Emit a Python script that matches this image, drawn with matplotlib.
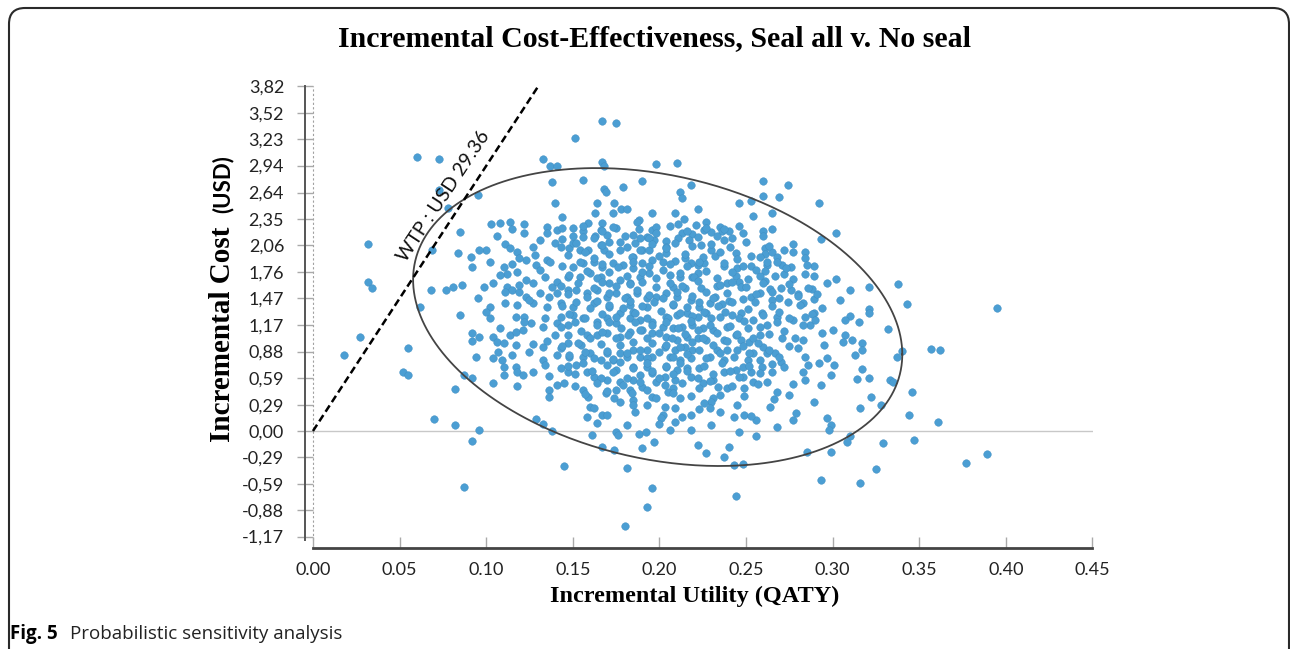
import numpy as np
import matplotlib.pyplot as plt
from matplotlib.patches import FancyBboxPatch
from matplotlib.transforms import IdentityTransform

# (incremental utility [QATY], incremental cost [USD]) simulations
left_pts = [(0.060, 3.04), (0.073, 3.01), (0.032, 2.07), (0.032, 1.65), (0.034, 1.58), (0.027, 1.04),
            (0.018, 0.84), (0.055, 0.92), (0.052, 0.65), (0.055, 0.62), (0.073, 2.67), (0.078, 2.47),
            (0.069, 2.00), (0.068, 1.56), (0.062, 1.37), (0.070, 0.13), (0.082, 0.07), (0.096, 0.01),
            (0.092, -0.11), (0.087, -0.62), (0.082, 0.46), (0.087, 0.62), (0.092, 0.59), (0.085, 2.20),
            (0.095, 2.61), (0.084, 1.97), (0.091, 1.93), (0.092, 1.82), (0.077, 1.56), (0.081, 1.59),
            (0.086, 1.62), (0.085, 1.28), (0.095, 1.47)]

top_pts = [(0.167, 3.43), (0.175, 3.41), (0.151, 3.24), (0.133, 3.01), (0.137, 2.93), (0.141, 2.94),
           (0.167, 2.98), (0.168, 2.93), (0.198, 2.96), (0.210, 2.97), (0.138, 2.76), (0.156, 2.78),
           (0.190, 2.77), (0.168, 2.68), (0.169, 2.65), (0.179, 2.70), (0.260, 2.77), (0.274, 2.72),
           (0.218, 2.72), (0.212, 2.65), (0.213, 2.58), (0.260, 2.60), (0.269, 2.59), (0.246, 2.52),
           (0.253, 2.55), (0.292, 2.52), (0.265, 2.41), (0.254, 2.38), (0.302, 2.19), (0.293, 2.13),
           (0.260, 2.21), (0.140, 2.52), (0.164, 2.52), (0.174, 2.52), (0.178, 2.46), (0.181, 2.46),
           (0.144, 2.37), (0.163, 2.41), (0.173, 2.41), (0.188, 2.34), (0.187, 2.31), (0.196, 2.41)]

upper_left_pts = [(0.103, 2.29), (0.108, 2.30), (0.114, 2.31), (0.122, 2.29), (0.115, 2.24), (0.122, 2.19),
                  (0.135, 2.26), (0.141, 2.23), (0.135, 2.19), (0.150, 2.25), (0.156, 2.21), (0.159, 2.30),
                  (0.167, 2.30), (0.156, 2.15), (0.163, 2.16), (0.170, 2.17), (0.175, 2.25), (0.185, 2.17),
                  (0.193, 2.15), (0.196, 2.23), (0.198, 2.26), (0.166, 2.23), (0.100, 2.01), (0.111, 2.07),
                  (0.106, 2.16), (0.127, 2.04), (0.118, 1.98), (0.123, 1.89), (0.119, 1.92), (0.115, 1.85),
                  (0.129, 1.84), (0.131, 1.78), (0.135, 1.89), (0.140, 2.08), (0.144, 2.13), (0.148, 2.03),
                  (0.150, 2.08), (0.154, 2.00), (0.159, 2.00), (0.166, 2.06), (0.168, 2.00), (0.171, 2.09),
                  (0.177, 2.00), (0.181, 2.04), (0.186, 2.08), (0.189, 2.14), (0.190, 2.00), (0.185, 1.93),
                  (0.194, 2.00), (0.197, 2.11), (0.110, 1.82), (0.112, 1.74), (0.118, 1.76), (0.123, 1.67),
                  (0.127, 1.64), (0.134, 1.70), (0.138, 1.59), (0.141, 1.65), (0.147, 1.70), (0.150, 1.82),
                  (0.156, 1.86), (0.162, 1.87), (0.167, 1.82), (0.173, 1.86), (0.179, 1.84), (0.185, 1.80),
                  (0.190, 1.86), (0.196, 1.89), (0.154, 1.70), (0.160, 1.75), (0.166, 1.70), (0.171, 1.64),
                  (0.177, 1.67), (0.183, 1.64), (0.189, 1.70), (0.194, 1.75), (0.099, 1.59), (0.104, 1.64),
                  (0.112, 1.59), (0.115, 1.56), (0.119, 1.54), (0.123, 1.48), (0.131, 1.53), (0.136, 1.48),
                  (0.141, 1.53), (0.147, 1.56), (0.152, 1.56), (0.158, 1.53), (0.164, 1.56), (0.170, 1.48),
                  (0.175, 1.53), (0.181, 1.48), (0.187, 1.53), (0.193, 1.47), (0.198, 1.48), (0.102, 1.37),
                  (0.111, 1.42), (0.118, 1.39), (0.127, 1.42), (0.135, 1.37), (0.143, 1.42), (0.150, 1.37),
                  (0.162, 1.42), (0.171, 1.37), (0.183, 1.39), (0.193, 1.37)]

upper_right_pts = [(0.222, 2.46), (0.209, 2.41), (0.214, 2.35), (0.211, 2.29), (0.221, 2.28), (0.227, 2.31),
                   (0.226, 2.23), (0.230, 2.20), (0.235, 2.26), (0.236, 2.21), (0.240, 2.21), (0.248, 2.19),
                   (0.213, 2.19), (0.219, 2.18), (0.237, 2.11), (0.217, 2.11), (0.204, 2.10), (0.204, 2.04),
                   (0.224, 2.06), (0.230, 2.00), (0.232, 1.94), (0.244, 1.97), (0.253, 1.94), (0.261, 2.03),
                   (0.261, 1.96), (0.265, 1.98), (0.268, 1.93), (0.272, 2.01), (0.277, 1.98), (0.284, 1.98),
                   (0.289, 1.83), (0.302, 1.68), (0.321, 1.59), (0.338, 1.63), (0.343, 1.41), (0.321, 1.35),
                   (0.271, 1.84), (0.276, 1.82), (0.272, 1.74), (0.262, 1.84), (0.261, 1.77), (0.258, 1.72),
                   (0.253, 1.83), (0.245, 1.80), (0.244, 1.72), (0.246, 1.65), (0.247, 1.59), (0.239, 1.64),
                   (0.237, 1.83), (0.226, 1.86), (0.284, 1.74), (0.288, 1.57), (0.276, 1.56), (0.270, 1.58),
                   (0.264, 1.57), (0.258, 1.53), (0.261, 1.66), (0.280, 1.52), (0.289, 1.46), (0.294, 1.36),
                   (0.283, 1.42), (0.274, 1.43), (0.265, 1.45), (0.253, 1.48), (0.240, 1.44), (0.236, 1.41),
                   (0.229, 1.42), (0.224, 1.58), (0.215, 1.58), (0.208, 1.59), (0.204, 1.97), (0.209, 1.88),
                   (0.202, 1.87), (0.215, 1.92), (0.218, 1.86), (0.222, 1.84), (0.222, 1.75), (0.219, 1.70),
                   (0.212, 1.70), (0.206, 1.73), (0.204, 1.53), (0.210, 1.48), (0.218, 1.45), (0.223, 1.37),
                   (0.208, 1.39), (0.233, 1.61), (0.232, 1.48)]

lower_left_pts = [(0.100, 1.32), (0.092, 1.08), (0.092, 1.00), (0.096, 1.04), (0.104, 1.04), (0.106, 0.99),
                  (0.110, 0.97), (0.114, 1.06), (0.117, 1.10), (0.121, 1.12), (0.117, 1.26), (0.122, 1.26),
                  (0.126, 1.20), (0.133, 1.15), (0.094, 0.82), (0.104, 0.81), (0.107, 0.87), (0.109, 0.79),
                  (0.110, 0.71), (0.115, 0.84), (0.117, 0.71), (0.118, 0.65), (0.121, 0.62), (0.110, 0.62),
                  (0.104, 0.53), (0.118, 0.50), (0.127, 0.65), (0.127, 0.96), (0.133, 0.93), (0.135, 1.00),
                  (0.133, 0.79), (0.136, 0.61), (0.141, 0.51), (0.136, 0.45), (0.136, 0.38), (0.145, 0.53),
                  (0.143, 0.92), (0.147, 0.97), (0.155, 0.95), (0.158, 1.06), (0.164, 1.06), (0.170, 1.08),
                  (0.177, 1.04), (0.183, 1.10), (0.190, 1.12), (0.196, 1.08), (0.141, 1.20), (0.147, 1.17),
                  (0.143, 1.26), (0.150, 1.28), (0.156, 1.25), (0.164, 1.21), (0.170, 1.25), (0.175, 1.20),
                  (0.183, 1.25), (0.189, 1.23), (0.196, 1.21), (0.177, 1.31), (0.185, 1.32), (0.141, 0.84),
                  (0.148, 0.82), (0.143, 0.70), (0.147, 0.65), (0.152, 0.73), (0.156, 0.82), (0.160, 0.86),
                  (0.158, 0.65), (0.162, 0.60), (0.166, 0.79), (0.170, 0.86), (0.173, 0.79), (0.177, 0.86),
                  (0.181, 0.82), (0.185, 0.90), (0.189, 0.82), (0.193, 0.90), (0.196, 0.82), (0.185, 0.71),
                  (0.193, 0.71), (0.196, 0.64), (0.175, 0.68), (0.170, 0.56), (0.177, 0.54), (0.185, 0.56),
                  (0.190, 0.49), (0.198, 0.54), (0.156, 0.45), (0.159, 0.38), (0.160, 0.27), (0.158, 0.15),
                  (0.167, 0.18), (0.164, 0.09), (0.169, 0.42), (0.175, 0.45), (0.183, 0.45), (0.185, 0.34),
                  (0.185, 0.29), (0.196, 0.38), (0.175, -0.01), (0.176, -0.04), (0.188, -0.03), (0.161, -0.04),
                  (0.167, -0.18), (0.174, -0.21), (0.181, -0.41), (0.190, -0.19), (0.197, -0.12), (0.129, 0.13),
                  (0.133, 0.08), (0.138, 0.00), (0.145, -0.39)]

lower_right_pts = [(0.310, 1.27), (0.315, 1.21), (0.321, 1.31), (0.332, 1.13), (0.300, 1.12), (0.307, 1.06),
                   (0.306, 0.99), (0.311, 1.01), (0.317, 0.97), (0.317, 0.90), (0.340, 0.89), (0.337, 0.82),
                   (0.317, 0.69), (0.321, 0.59), (0.314, 0.58), (0.333, 0.56), (0.335, 0.54), (0.346, 0.43),
                   (0.322, 0.38), (0.328, 0.29), (0.316, 0.25), (0.344, 0.18), (0.347, -0.10), (0.329, -0.13),
                   (0.299, -0.23), (0.299, 0.07), (0.298, 0.01), (0.297, 0.14), (0.310, -0.06), (0.308, -0.12),
                   (0.285, -0.23), (0.289, 0.32), (0.279, 0.20), (0.277, 0.12), (0.268, 0.04), (0.256, 0.12),
                   (0.256, -0.06), (0.249, 0.18), (0.243, 0.15), (0.240, -0.18), (0.237, -0.29), (0.227, -0.24),
                   (0.222, -0.15), (0.243, -0.38), (0.248, -0.37), (0.325, -0.42), (0.264, 0.27), (0.266, 0.35),
                   (0.268, 0.43), (0.275, 0.40), (0.277, 0.52), (0.284, 0.56), (0.283, 0.65), (0.286, 0.73),
                   (0.292, 0.75), (0.297, 0.81), (0.299, 0.62), (0.284, 0.82), (0.280, 0.92), (0.283, 1.01),
                   (0.287, 1.17), (0.284, 1.26), (0.289, 1.31), (0.294, 1.08), (0.271, 1.03), (0.277, 1.23),
                   (0.268, 1.26), (0.262, 1.17), (0.259, 1.31), (0.254, 1.23), (0.247, 1.31), (0.242, 1.28),
                   (0.235, 1.26), (0.239, 1.15), (0.244, 1.06), (0.247, 1.01), (0.252, 0.99), (0.258, 1.06),
                   (0.260, 0.93), (0.262, 0.86), (0.267, 0.86), (0.270, 0.76), (0.272, 0.71), (0.258, 0.79),
                   (0.259, 0.71), (0.251, 0.79), (0.248, 0.71), (0.244, 0.68), (0.237, 0.79), (0.233, 0.90),
                   (0.239, 0.90), (0.229, 0.82), (0.223, 0.70), (0.218, 0.60), (0.225, 0.53), (0.231, 0.56),
                   (0.234, 0.49), (0.231, 0.37), (0.230, 0.32), (0.239, 0.48), (0.249, 0.48), (0.254, 0.54),
                   (0.262, 0.54), (0.265, 0.65), (0.208, 0.48), (0.205, 0.43), (0.212, 0.37), (0.203, 0.27),
                   (0.213, 0.15), (0.209, 0.10), (0.206, 0.01), (0.223, 0.24), (0.229, 0.25), (0.202, 0.18),
                   (0.204, 1.26), (0.210, 1.28), (0.216, 1.31), (0.222, 1.26), (0.227, 1.31), (0.202, 1.15),
                   (0.208, 1.14), (0.213, 1.15), (0.219, 1.17), (0.225, 1.14), (0.231, 1.12), (0.204, 1.04),
                   (0.210, 1.01), (0.216, 1.04), (0.222, 1.03), (0.227, 1.01), (0.203, 0.93), (0.209, 0.90),
                   (0.215, 0.93), (0.219, 0.90), (0.206, 0.82), (0.212, 0.79), (0.218, 0.81), (0.204, 0.71),
                   (0.210, 0.68), (0.216, 0.70), (0.203, 0.60), (0.209, 0.56), (0.251, 1.14), (0.245, 0.90),
                   (0.254, 0.86), (0.253, 0.65), (0.248, 0.60), (0.237, 0.65)]

core_top_pts = [(0.144, 2.25), (0.150, 2.16), (0.156, 2.27), (0.162, 2.14), (0.167, 2.21), (0.173, 2.26),
                (0.180, 2.16), (0.188, 2.24), (0.194, 2.14), (0.198, 2.19), (0.206, 2.27), (0.211, 2.14),
                (0.216, 2.21), (0.222, 2.15), (0.227, 2.25), (0.233, 2.16), (0.237, 2.24), (0.242, 2.14),
                (0.246, 2.27), (0.260, 2.16), (0.265, 2.24), (0.143, 2.04), (0.147, 1.95), (0.152, 2.08),
                (0.157, 1.98), (0.162, 1.92), (0.167, 2.06), (0.171, 1.96), (0.177, 2.09), (0.184, 1.93),
                (0.189, 2.01), (0.196, 2.07), (0.200, 1.94), (0.204, 2.03), (0.209, 2.08), (0.215, 1.96),
                (0.219, 2.05), (0.225, 1.93), (0.230, 2.07), (0.235, 1.98), (0.241, 2.04), (0.245, 1.90),
                (0.250, 2.09), (0.258, 1.93), (0.263, 2.05), (0.268, 1.87), (0.277, 2.07), (0.284, 1.92)]

core_upper_pts = [(0.144, 1.83), (0.148, 1.73), (0.154, 1.87), (0.158, 1.77), (0.164, 1.69), (0.167, 1.85),
                  (0.171, 1.76), (0.176, 1.82), (0.181, 1.72), (0.185, 1.87), (0.190, 1.76), (0.194, 1.83),
                  (0.198, 1.69), (0.202, 1.78), (0.206, 1.85), (0.212, 1.75), (0.216, 1.83), (0.220, 1.70),
                  (0.223, 1.87), (0.227, 1.77), (0.233, 1.69), (0.237, 1.86), (0.242, 1.76), (0.248, 1.83),
                  (0.251, 1.68), (0.256, 1.78), (0.262, 1.87), (0.267, 1.72), (0.273, 1.80), (0.277, 1.68),
                  (0.285, 1.84), (0.289, 1.72), (0.143, 1.61), (0.147, 1.52), (0.153, 1.64), (0.158, 1.48),
                  (0.162, 1.58), (0.167, 1.65), (0.171, 1.53), (0.175, 1.61), (0.180, 1.47), (0.183, 1.63),
                  (0.187, 1.56), (0.190, 1.65), (0.194, 1.51), (0.198, 1.59), (0.202, 1.47), (0.206, 1.64),
                  (0.210, 1.54), (0.213, 1.61), (0.219, 1.49), (0.222, 1.66), (0.227, 1.54), (0.231, 1.47),
                  (0.235, 1.62), (0.239, 1.53), (0.242, 1.65), (0.248, 1.46), (0.250, 1.59), (0.256, 1.52),
                  (0.260, 1.64), (0.265, 1.54), (0.269, 1.47), (0.275, 1.63), (0.280, 1.49), (0.286, 1.58),
                  (0.291, 1.52), (0.297, 1.64)]

core_mid_pts = [(0.144, 1.38), (0.148, 1.30), (0.152, 1.43), (0.157, 1.25), (0.160, 1.36), (0.164, 1.44),
                (0.167, 1.30), (0.171, 1.39), (0.175, 1.26), (0.179, 1.36), (0.183, 1.44), (0.186, 1.31),
                (0.190, 1.38), (0.193, 1.25), (0.197, 1.43), (0.201, 1.33), (0.205, 1.25), (0.208, 1.41),
                (0.212, 1.31), (0.216, 1.37), (0.219, 1.27), (0.223, 1.43), (0.226, 1.32), (0.230, 1.25),
                (0.234, 1.38), (0.238, 1.32), (0.242, 1.43), (0.246, 1.25), (0.251, 1.35), (0.255, 1.43),
                (0.260, 1.28), (0.265, 1.38), (0.269, 1.32), (0.275, 1.25), (0.281, 1.39), (0.288, 1.30),
                (0.143, 1.15), (0.147, 1.06), (0.151, 1.21), (0.155, 1.11), (0.160, 1.03), (0.164, 1.17),
                (0.167, 1.10), (0.171, 1.21), (0.175, 1.03), (0.178, 1.14), (0.182, 1.06), (0.186, 1.21),
                (0.189, 1.12), (0.193, 1.03), (0.196, 1.17), (0.200, 1.08), (0.204, 1.21), (0.207, 1.03),
                (0.211, 1.14), (0.215, 1.07), (0.218, 1.22), (0.222, 1.12), (0.225, 1.03), (0.229, 1.17),
                (0.233, 1.08), (0.237, 1.01), (0.241, 1.16), (0.245, 1.07), (0.249, 1.22), (0.254, 1.03),
                (0.258, 1.15), (0.263, 1.07), (0.268, 1.21), (0.272, 1.11), (0.278, 1.03), (0.283, 1.17)]

core_low_pts = [(0.144, 0.94), (0.148, 0.84), (0.153, 0.97), (0.157, 0.87), (0.162, 0.81), (0.166, 0.96),
                (0.170, 0.89), (0.173, 0.80), (0.177, 0.95), (0.181, 0.86), (0.185, 0.99), (0.189, 0.90),
                (0.193, 0.81), (0.196, 0.97), (0.200, 0.87), (0.204, 0.95), (0.208, 0.82), (0.212, 0.93),
                (0.216, 0.85), (0.219, 0.99), (0.223, 0.90), (0.227, 0.81), (0.231, 0.95), (0.235, 0.86),
                (0.239, 1.00), (0.243, 0.82), (0.248, 0.94), (0.252, 0.86), (0.257, 0.97), (0.263, 0.90),
                (0.269, 0.82), (0.275, 0.94), (0.147, 0.72), (0.151, 0.63), (0.156, 0.75), (0.161, 0.66),
                (0.166, 0.59), (0.170, 0.73), (0.173, 0.65), (0.177, 0.76), (0.181, 0.59), (0.185, 0.70),
                (0.189, 0.62), (0.193, 0.75), (0.196, 0.66), (0.200, 0.59), (0.204, 0.72), (0.208, 0.63),
                (0.212, 0.75), (0.216, 0.66), (0.222, 0.59), (0.226, 0.72), (0.231, 0.63), (0.236, 0.75),
                (0.241, 0.66), (0.246, 0.60), (0.252, 0.72), (0.258, 0.64), (0.265, 0.74), (0.151, 0.50),
                (0.157, 0.41), (0.164, 0.53), (0.170, 0.44), (0.174, 0.37), (0.179, 0.51), (0.184, 0.42),
                (0.189, 0.54), (0.193, 0.45), (0.198, 0.37), (0.203, 0.51), (0.208, 0.42), (0.213, 0.53),
                (0.218, 0.39), (0.223, 0.48), (0.229, 0.55), (0.235, 0.40), (0.242, 0.50), (0.249, 0.39),
                (0.257, 0.52), (0.162, 0.25), (0.170, 0.18), (0.177, 0.32), (0.186, 0.21), (0.193, 0.29),
                (0.201, 0.14), (0.209, 0.25), (0.218, 0.18), (0.226, 0.31), (0.235, 0.21), (0.245, 0.29),
                (0.253, 0.17), (0.181, 0.07), (0.192, -0.01), (0.200, 0.08), (0.218, 0.01), (0.230, 0.07),
                (0.246, -0.01)]

core_edge_pts = [(0.096, 2.00), (0.102, 1.87), (0.108, 1.73), (0.114, 2.03), (0.119, 1.62), (0.125, 1.45),
                 (0.131, 2.11), (0.134, 1.25), (0.137, 1.87), (0.140, 1.06), (0.102, 1.25), (0.108, 1.14),
                 (0.117, 0.95), (0.125, 0.87), (0.134, 0.73), (0.111, 1.54), (0.128, 1.95), (0.122, 1.21),
                 (0.290, 1.23), (0.295, 0.95), (0.304, 1.45), (0.310, 1.56), (0.301, 0.73), (0.307, 1.23),
                 (0.293, 0.51), (0.313, 0.84)]

outer_pts = [(0.361, 0.10), (0.389, -0.25), (0.377, -0.35), (0.316, -0.58), (0.395, 1.36), (0.357, 0.91),
             (0.362, 0.90), (0.180, -1.05), (0.196, -0.63), (0.193, -0.84), (0.244, -0.72), (0.293, -0.54)]

wtp = 29.36  # USD per QATY
x_ticks = [0.00, 0.05, 0.10, 0.15, 0.20, 0.25, 0.30, 0.35, 0.40, 0.45]
y_tick_labels = ["-1,17", "-0,88", "-0,59", "-0,29", "0,00", "0,29", "0,59", "0,88", "1,17",
                 "1,47", "1,76", "2,06", "2,35", "2,64", "2,94", "3,23", "3,52", "3,82"]

# 95% ellipse around the cloud
ell_cx, ell_cy = 0.199, 1.262
ell_wx, ell_tilt, ell_hy = 0.1412, -0.414, 1.597

W, H = 1290, 649
fig = plt.figure(figsize=(W / 100, H / 100), dpi=100)
ax = fig.add_axes([305 / W, 1 - 548 / H, 788 / W, 464 / H])
ax.set_xlim(-0.0046, 0.4503)
ax.set_ylim(-1.296, 3.843)

pts = (left_pts + top_pts + upper_left_pts + upper_right_pts + lower_left_pts + lower_right_pts
       + core_top_pts + core_upper_pts + core_mid_pts + core_low_pts + core_edge_pts + outer_pts)
util = [p[0] for p in pts]
cost = [p[1] for p in pts]

ax.axhline(0, xmin=0.0046 / 0.4549, xmax=1, color="#c8c8c8", lw=1.0, zorder=1)
ax.plot([0, 0], [-1.207, 3.82], color="#a0a0a0", lw=0.8, ls=(0, (2, 2)), zorder=1)
ax.scatter(util, cost, s=30, color="#4b9ed3", edgecolor="#3e8cc0", linewidth=0.3, zorder=2)

t = np.linspace(0, 2 * np.pi, 400)
ax.plot(ell_cx + ell_wx * np.cos(t), ell_cy + ell_tilt * np.cos(t) + ell_hy * np.sin(t),
        color="#444444", lw=1.3, zorder=3)

x_end = 3.83 / wtp
ax.plot([0, x_end], [0, wtp * x_end], color="black", lw=1.8, ls=(0, (3, 1.6)), zorder=4)
ax.text(0.0755, 2.60, "WTP : USD 29.36", rotation=56.5, rotation_mode="anchor",
        ha="center", va="center", fontsize=14, family="Lato", color="#111111", zorder=5)

for s in ["top", "right"]:
    ax.spines[s].set_visible(False)
ax.spines["left"].set_bounds(-1.207, 3.82)
ax.spines["left"].set_color("#555555")
ax.spines["left"].set_linewidth(1.4)
ax.spines["bottom"].set_bounds(0, 0.45)
ax.spines["bottom"].set_color("#444444")
ax.spines["bottom"].set_linewidth(2.0)

ax.set_xticks(x_ticks)
ax.set_xticklabels([f"{v:.2f}" for v in x_ticks])
ax.set_yticks([float(s.replace(",", ".")) for s in y_tick_labels])
ax.set_yticklabels(y_tick_labels)
ax.tick_params(axis="y", direction="inout", length=12, width=1, color="#aaaaaa", pad=9,
               labelsize=13, labelcolor="#222222")
ax.tick_params(axis="x", direction="in", length=8, width=1, color="#aaaaaa", pad=10,
               labelsize=13, labelcolor="#222222")
for lab in ax.get_xticklabels() + ax.get_yticklabels():
    lab.set_family("Lato")

fig.text(654 / W, 1 - 46 / H, "Incremental Cost-Effectiveness, Seal all v. No seal",
         ha="center", va="baseline", fontsize=21.5, weight="bold", family="Liberation Serif")
fig.text(695 / W, 1 - 596 / H, "Incremental Utility (QATY)", ha="center", va="center",
         fontsize=17.5, weight="bold", family="Liberation Serif")
fig.text(223 / W, 1 - 442 / H, "Incremental Cost", rotation=90, rotation_mode="anchor",
         ha="left", va="center", fontsize=21, weight="bold", family="Liberation Serif")
fig.text(223 / W, 1 - 213 / H, "(USD)", rotation=90, rotation_mode="anchor",
         ha="left", va="center", fontsize=16, weight="bold", family="Lato")

fig.text(10 / W, 1 - 639 / H, "Fig. 5", ha="left", va="baseline", fontsize=13.5,
         weight="bold", family="Open Sans")
fig.text(70 / W, 1 - 639 / H, "Probabilistic sensitivity analysis", ha="left", va="baseline",
         fontsize=13.5, family="Open Sans", color="#222222")

frame = FancyBboxPatch((9, -60), 1280, 641 + 60, boxstyle="round,pad=0,rounding_size=16",
                       transform=IdentityTransform(), fill=False, edgecolor="#2a2a2a", lw=1.5)
fig.patches.append(frame)

fig.savefig("out.png", dpi=100)
